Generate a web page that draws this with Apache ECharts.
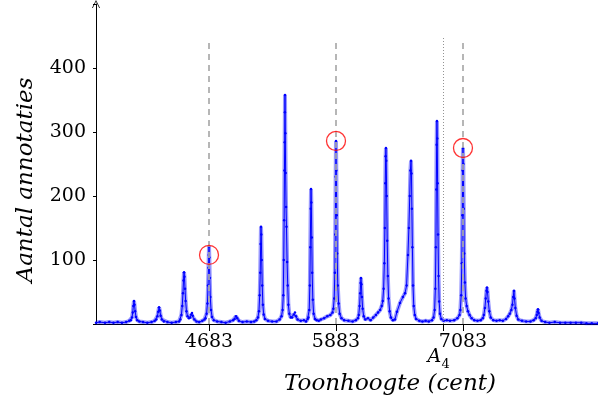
<!DOCTYPE html>
<html lang="nl">
<head>
  <meta charset="UTF-8">
  <title>Toonhoogte histogram</title>
  <style>
    html, body { margin: 0; padding: 0; background: #fff; }
  </style>
</head>
<body>
  <div id="main" style="width:598px;height:402px;"></div>

  <script src="https://cdn.jsdelivr.net/npm/echarts@6/dist/echarts.min.js"></script>
  <script>
    // pitch (cent) and number of annotations
    var cents = [
      3615, 3650, 3700, 3740, 3780, 3820, 3860, 3900, 3930,
      3945, 3955, 3962, 3968, 3974, 3979, 3985, 3993, 4005, 4025,
      4060, 4100, 4140, 4170,
      4185, 4195, 4203, 4211, 4218, 4226, 4238, 4255,
      4290, 4330, 4370, 4400,
      4412, 4422, 4430, 4437, 4442, 4447, 4451, 4456, 4462, 4470, 4480, 4492,
      4505, 4515, 4522, 4530, 4545, 4565,
      4590, 4620, 4640,
      4650, 4660, 4668, 4674, 4678, 4681, 4683, 4686, 4690, 4695, 4702, 4712, 4728,
      4760, 4800, 4840, 4880, 4910,
      4925, 4938, 4950, 4965,
      5000, 5040, 5080, 5110, 5130,
      5145, 5155, 5162, 5167, 5171, 5174, 5177, 5181, 5186, 5192, 5200, 5212,
      5240, 5280, 5320, 5350,
      5368, 5378, 5385, 5389, 5393, 5396, 5398, 5400, 5401, 5404, 5407, 5411, 5415, 5421, 5427, 5433, 5442, 5455,
      5470, 5485, 5495, 5505, 5520,
      5550, 5580, 5600, 5615,
      5622, 5630, 5636, 5640, 5644, 5647, 5650, 5654, 5658, 5664, 5672, 5685,
      5700, 5720, 5740, 5770, 5800, 5830, 5850,
      5858, 5866, 5872, 5876, 5880, 5883, 5886, 5890, 5894, 5900, 5908, 5918, 5935,
      5960, 6000, 6040, 6070, 6090,
      6098, 6106, 6112, 6116, 6119, 6123, 6128, 6135, 6145, 6160,
      6185, 6210, 6235, 6260,
      6280, 6300, 6315, 6325, 6333, 6340, 6345, 6349, 6352, 6355, 6358, 6362, 6367, 6373, 6380, 6390, 6402,
      6420, 6440,
      6459, 6488, 6515, 6535, 6550, 6563, 6572, 6580, 6586, 6592, 6596, 6600, 6605, 6611, 6618, 6628, 6640,
      6670, 6700, 6730, 6760, 6790,
      6805, 6815, 6822, 6827, 6831, 6834, 6837, 6840, 6843, 6847, 6852, 6858, 6866, 6878,
      6900, 6930, 6960, 7000, 7030, 7050,
      7058, 7066, 7072, 7077, 7080, 7083, 7086, 7090, 7095, 7101, 7108, 7118, 7130, 7145, 7165,
      7190, 7220, 7250, 7270,
      7280, 7290, 7298, 7305, 7310, 7315, 7322, 7332, 7345,
      7370, 7400, 7430, 7460, 7490, 7510,
      7525, 7540, 7550, 7558, 7565, 7570, 7578, 7590, 7605,
      7640, 7680, 7720, 7750,
      7770, 7780, 7786, 7792, 7798, 7808, 7825,
      7860, 7900, 7950, 8000, 8050, 8100, 8150, 8200, 8250, 8300, 8359
    ];
    var counts = [
      2, 3, 2, 3, 2, 3, 2, 3, 5,
      6, 10, 18, 28, 36, 30, 20, 11, 6, 4,
      3, 2, 3, 5,
      7, 12, 19, 26, 21, 13, 7, 4,
      3, 2, 3, 4,
      7, 14, 28, 48, 68, 81, 74, 55, 36, 20, 12, 9,
      10, 15, 17, 13, 7, 4,
      3, 5, 7,
      9, 16, 32, 60, 88, 108, 121, 104, 72, 42, 22, 11, 6,
      4, 3, 2, 4, 6,
      8, 12, 9, 5,
      3, 4, 3, 4, 6,
      10, 20, 45, 80, 125, 152, 140, 100, 60, 30, 15, 8,
      5, 4, 4, 7,
      12, 22, 45, 100, 162, 240, 284, 331, 358, 298, 236, 183, 152, 97, 60, 30, 16, 10,
      10, 15, 18, 12, 7,
      5, 6, 4, 8,
      10, 22, 60, 120, 180, 211, 190, 135, 80, 38, 16, 8,
      6, 5, 7, 9, 12, 14, 18,
      24, 40, 80, 140, 230, 286, 240, 170, 110, 60, 32, 16, 9,
      6, 5, 4, 6, 9,
      14, 28, 48, 64, 72, 62, 42, 24, 12, 7,
      9, 6, 10, 14,
      18, 22, 28, 36, 55, 95, 150, 220, 262, 275, 255, 200, 130, 75, 40, 20, 10,
      6, 7,
      19, 33, 42, 48, 60, 108, 150, 200, 240, 255, 235, 180, 120, 60, 28, 14, 8,
      5, 4, 5, 4, 6,
      10, 22, 55, 120, 210, 280, 317, 290, 220, 140, 75, 35, 16, 8,
      5, 6, 5, 6, 9, 14,
      22, 45, 95, 170, 240, 275, 250, 180, 110, 65, 40, 28, 20, 14, 9,
      6, 5, 6, 9,
      14, 25, 40, 52, 57, 50, 35, 20, 10,
      6, 5, 6, 5, 8, 12,
      16, 22, 30, 42, 52, 40, 25, 13, 7,
      5, 4, 4, 6,
      9, 14, 19, 23, 17, 10, 5,
      3, 2, 3, 2, 2, 2, 2, 2, 1, 1, 1
    ];

    // marked tones (dashed lines + red circles)
    var markedCents = [4683, 5883, 7083];
    var markedCounts = [108, 286, 275];
    var tickCents = [4683, 5883, 6900, 7083];
    var a4Cent = 6900;

    var serif = 'DejaVu Serif';
    var histData = cents.map(function (c, i) { return [c, counts[i]] });

    var myChart = echarts.init(document.getElementById('main'), null, { renderer: 'canvas' })

    var options = {
      animation: false,
      grid: { left: 96, right: 0, top: 4, bottom: 78, outerBoundsMode: 'none' },
      xAxis: {
        type: 'value',
        min: 3615,
        max: 8359,
        splitLine: { show: false },
        axisLine: { lineStyle: { color: '#000', width: 1 } },
        axisTick: { customValues: tickCents, length: 7, lineStyle: { color: '#000' } },
        axisLabel: {
          customValues: markedCents,
          fontFamily: serif,
          fontSize: 19,
          color: '#000',
          margin: 9,
          formatter: function (v) { return String(v) }
        }
      },
      yAxis: {
        type: 'value',
        min: 0,
        max: 500,
        interval: 100,
        splitLine: { show: false },
        axisLine: {
          show: true,
          symbol: ['none', 'path://M0,10 L5,0 L10,10 L9,10 L5,2 L1,10 Z'],
          symbolSize: [9, 8],
          symbolOffset: [0, 0],
          lineStyle: { color: '#000', width: 1 }
        },
        axisTick: { show: true, length: 3, lineStyle: { color: '#000' } },
        axisLabel: {
          fontFamily: serif,
          fontSize: 19,
          color: '#000',
          margin: 10,
          formatter: function (v) { return (v > 0 && v < 500) ? v : '' }
        }
      },
      series: [
        {
          // light halo behind the trace, also carries the reference lines
          type: 'line',
          data: histData,
          showSymbol: false,
          silent: true,
          lineStyle: { color: '#0000ff', width: 4, opacity: 0.4 },
          z: 2,
          markLine: {
            silent: true,
            symbol: ['none', 'none'],
            label: { show: false },
            data: markedCents.map(function (c) {
              return [
                { coord: [c, 0], lineStyle: { color: '#aaaaaa', width: 1.7, type: [6, 5] } },
                { coord: [c, 439] }
              ]
            }).concat([[
              { coord: [a4Cent, 0], lineStyle: { color: '#777777', width: 0.8, type: [1, 2] } },
              { coord: [a4Cent, 447] }
            ]])
          }
        },
        {
          type: 'line',
          data: histData,
          symbol: 'circle',
          symbolSize: 2.5,
          showSymbol: true,
          itemStyle: { color: '#0000ff' },
          lineStyle: { color: '#0000ff', width: 1 },
          z: 3
        },
        {
          type: 'scatter',
          data: markedCents.map(function (c, i) { return [c, markedCounts[i]] }),
          symbol: 'circle',
          symbolSize: 19,
          itemStyle: { color: 'rgba(0,0,0,0)', borderColor: '#ff0000', borderWidth: 1.3 },
          z: 5
        }
      ]
    }
    myChart.setOption(options)

    // A4 label under its tick, and the axis titles
    var a4 = myChart.convertToPixel({ xAxisIndex: 0, yAxisIndex: 0 }, [a4Cent, 0])
    myChart.setOption({
      graphic: [
        {
          type: 'text',
          x: a4[0] - 16, y: 348,
          style: { text: 'A', font: 'italic 19px "DejaVu Serif"', fill: '#000' }
        },
        {
          type: 'text',
          x: a4[0] - 2, y: 358,
          style: { text: '4', font: '13px "DejaVu Serif"', fill: '#000' }
        },
        {
          type: 'text',
          x: 390, y: 384,
          style: {
            text: 'Toonhoogte (cent)', font: 'italic 23px "DejaVu Serif"', fill: '#000',
            align: 'center', verticalAlign: 'middle'
          }
        },
        {
          type: 'text',
          x: 26, y: 180,
          rotation: Math.PI / 2,
          style: {
            text: 'Aantal annotaties', font: 'italic 23px "DejaVu Serif"', fill: '#000',
            align: 'center', verticalAlign: 'middle'
          }
        }
      ]
    })
  </script>
</body>
</html>
